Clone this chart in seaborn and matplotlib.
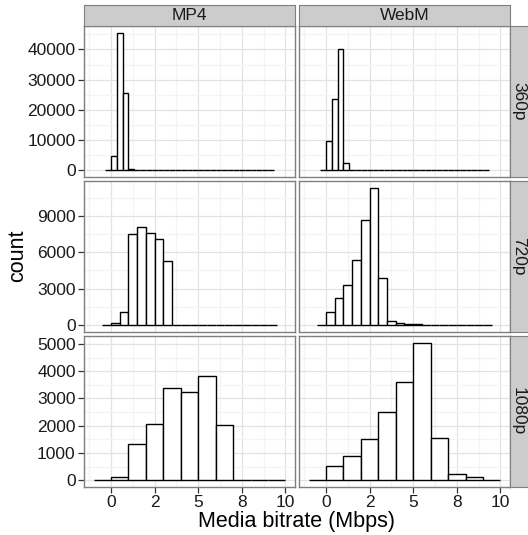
import numpy as np
import pandas as pd
import matplotlib
matplotlib.use('Agg')
import matplotlib.pyplot as plt
import seaborn as sns

codecs = ['MP4', 'WebM']
resolutions = ['360p', '720p', '1080p']

# bins for each resolution row: first edge, bin width
bin_start = {'360p': -1/3, '720p': -0.5, '1080p': -1.0}
bin_width = {'360p': 1/3, '720p': 0.5, '1080p': 1.0}

# counts per bin
mp4_360 = [0, 4600, 45500, 25700, 250, 60, 30, 20, 10, 10, 5, 5, 0, 0, 0,
           0, 0, 0, 0, 0, 0, 0, 0, 0, 0, 0, 0, 0, 0]
webm_360 = [0, 9800, 23600, 40300, 2300, 150, 60, 30, 20, 10, 5, 5, 0, 0, 0,
            0, 0, 0, 0, 0, 0, 0, 0, 0, 0, 0, 0, 0, 0]
mp4_720 = [0, 190, 1090, 7470, 8040, 7550, 7080, 5280, 25, 15,
           0, 0, 0, 0, 0, 0, 0, 0, 0, 0]
webm_720 = [0, 1120, 2270, 3280, 5360, 8620, 11300, 3860, 380, 190,
            100, 80, 40, 30, 20, 20, 15, 10, 5, 0]
mp4_1080 = [0, 110, 1340, 2070, 3390, 3240, 3820, 2020, 15, 15, 0]
webm_1080 = [0, 520, 870, 1500, 2490, 3590, 5040, 1550, 220, 100, 0]

counts = {
    ('360p', 'MP4'): mp4_360, ('360p', 'WebM'): webm_360,
    ('720p', 'MP4'): mp4_720, ('720p', 'WebM'): webm_720,
    ('1080p', 'MP4'): mp4_1080, ('1080p', 'WebM'): webm_1080,
}

y_ticks = {'360p': [0, 10000, 20000, 30000, 40000],
           '720p': [0, 3000, 6000, 9000],
           '1080p': [0, 1000, 2000, 3000, 4000, 5000]}
x_ticks = [0, 2.5, 5, 7.5, 10]
x_tick_labels = ['0', '2', '5', '8', '10']

sns.set_style('white')
plt.rcParams['font.family'] = ['Liberation Sans', 'DejaVu Sans']

W, H = 528, 535
fig = plt.figure(figsize=(W / 100, H / 100), dpi=100)


def rect(x, y, w, h):
    return [x / W, 1 - (y + h) / H, w / W, h / H]


col_left = [84, 299]
row_top = [26, 181, 336]
pw, ph = 211, 151
txt = '#1a1a1a'
border = '#7f7f7f'

for i, res in enumerate(resolutions):
    nbins = len(counts[(res, 'MP4')])
    edges = [bin_start[res] + bin_width[res] * k for k in range(nbins + 1)]
    ymax = max(max(counts[(res, c)]) for c in codecs)
    for j, codec in enumerate(codecs):
        ax = fig.add_axes(rect(col_left[j], row_top[i], pw, ph))
        df = pd.DataFrame({'bitrate': [e + bin_width[res] / 2 for e in edges[:-1]],
                           'n': counts[(res, codec)]})
        sns.histplot(data=df, x='bitrate', weights='n', bins=edges, ax=ax,
                     color='white', edgecolor='black', linewidth=1.0, alpha=1,
                     zorder=3)
        ax.set_xlim(-1.55, 10.55)
        ax.set_ylim(-0.05 * ymax, 1.05 * ymax)
        ax.set_xticks(x_ticks)
        ax.set_xticks([-1.25, 1.25, 3.75, 6.25, 8.75], minor=True)
        yt = y_ticks[res]
        ax.set_yticks(yt)
        step = yt[1] - yt[0]
        ax.set_yticks([v + step / 2 for v in yt if v + step / 2 < 1.05 * ymax], minor=True)
        ax.set_axisbelow(True)
        ax.grid(which='major', color='#e3e3e3', lw=0.9)
        ax.grid(which='minor', color='#f4f4f4', lw=0.9)
        ax.set_xlabel('')
        ax.set_ylabel('')
        for s in ax.spines.values():
            s.set_color(border)
            s.set_linewidth(1.0)
        ax.tick_params(which='minor', length=0)
        ax.tick_params(which='major', length=4, width=0.9, color='#333333',
                       labelsize=12.5, labelcolor=txt, pad=2)
        if i == len(resolutions) - 1:
            ax.set_xticklabels(x_tick_labels)
            ax.tick_params(axis='x', bottom=True)
        else:
            ax.tick_params(axis='x', bottom=False, labelbottom=False)
        if j == 0:
            ax.set_yticklabels([str(v) for v in yt])
            ax.tick_params(axis='y', left=True)
        else:
            ax.tick_params(axis='y', left=False, labelleft=False)

# strips
for j, codec in enumerate(codecs):
    sa = fig.add_axes(rect(col_left[j], 5, pw, 21))
    sa.set_facecolor('#cccccc')
    sa.set_xticks([])
    sa.set_yticks([])
    for s in sa.spines.values():
        s.set_color(border)
    sa.text(0.5, 0.48, codec, ha='center', va='center', fontsize=12.5,
            color=txt, transform=sa.transAxes)

for i, res in enumerate(resolutions):
    sa = fig.add_axes(rect(510, row_top[i], 19, ph))
    sa.set_facecolor('#cccccc')
    sa.set_xticks([])
    sa.set_yticks([])
    for s in sa.spines.values():
        s.set_color(border)
    sa.text(0.45, 0.5, res, ha='center', va='center', fontsize=12.5,
            color=txt, rotation=-90, transform=sa.transAxes)

fig.text(297 / W, 1 - 521 / H, 'Media bitrate (Mbps)', ha='center', va='center',
         fontsize=15.5, color='black')
fig.text(18 / W, 1 - 256 / H, 'count', ha='center', va='center',
         fontsize=15.5, color='black', rotation=90)

fig.savefig('out.png', dpi=100)
